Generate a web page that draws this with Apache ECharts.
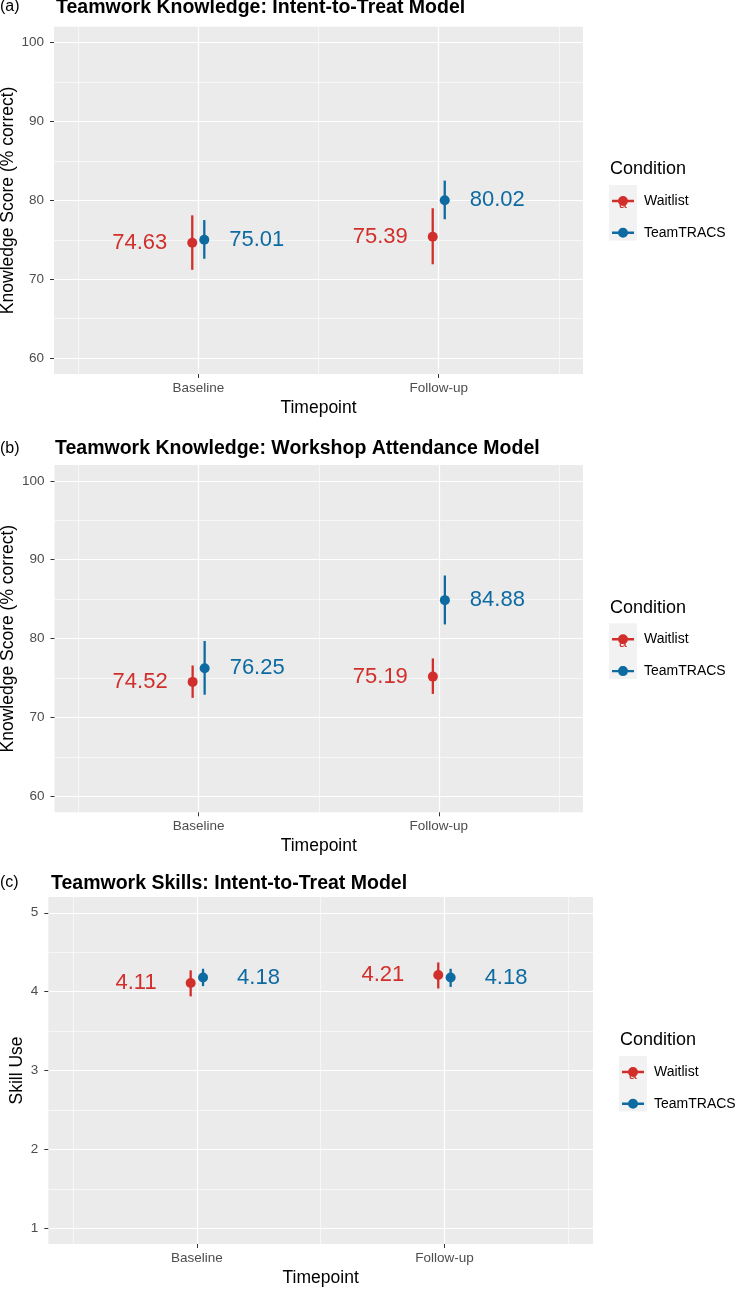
<!DOCTYPE html>
<html>
<head>
<meta charset="utf-8">
<script src="https://cdn.jsdelivr.net/npm/echarts@6/dist/echarts.min.js"></script>
<style>
html, body { margin: 0; padding: 0; background: #fff; }
#chart { width: 742px; height: 1289px; }
</style>
</head>
<body>
<div id="chart"></div>
<script>
// categories
const timepoints = ['Baseline', 'Follow-up'];
const groups = ['Waitlist', 'TeamTRACS'];

// (a) knowledge, intent-to-treat
const ittWaitMean = [74.63, 75.39];
const ittWaitLow = [71.2, 71.9];
const ittWaitHigh = [78.1, 79.0];
const ittTeamMean = [75.01, 80.02];
const ittTeamLow = [72.6, 77.6];
const ittTeamHigh = [77.5, 82.5];

// (b) knowledge, workshop attendance
const attWaitMean = [74.52, 75.19];
const attWaitLow = [72.5, 73.0];
const attWaitHigh = [76.6, 77.5];
const attTeamMean = [76.25, 84.88];
const attTeamLow = [72.9, 81.8];
const attTeamHigh = [79.7, 88.0];

// (c) skills, intent-to-treat
const skillWaitMean = [4.11, 4.21];
const skillWaitLow = [3.94, 4.04];
const skillWaitHigh = [4.27, 4.37];
const skillTeamMean = [4.18, 4.18];
const skillTeamLow = [4.07, 4.06];
const skillTeamHigh = [4.29, 4.29];

// tick labels
const knowledgeTicks = [60, 70, 80, 90, 100];
const knowledgeMinor = [65, 75, 85, 95];
const skillTicks = [1, 2, 3, 4, 5];
const skillMinor = [1.5, 2.5, 3.5, 4.5];
const xMinor = [0.5, 1.5, 2.5];

const colors = ['#D12F2B', '#0D6BA1'];
const FONT = '"Liberation Sans", Arial, sans-serif';
const dodge = 0.025;

const panels = [
    {
        tag: '(a)', title: 'Teamwork Knowledge: Intent-to-Treat Model', yName: 'Knowledge Score (% correct)',
        grid: { left: 54, top: 26.7, width: 529, height: 347.3 },
        yMin: 58, yMax: 102, ticks: knowledgeTicks, minor: knowledgeMinor, yGap: 37,
        titleY: 7, tagY: 7, tagX: 0, titleX: 56,
        legendX: 609, condY: 169.3, keyY: 199, labelGap: 25,
        groups: [[ittWaitMean, ittWaitLow, ittWaitHigh], [ittTeamMean, ittTeamLow, ittTeamHigh]]
    },
    {
        tag: '(b)', title: 'Teamwork Knowledge: Workshop Attendance Model', yName: 'Knowledge Score (% correct)',
        grid: { left: 54.5, top: 465, width: 528.5, height: 347.3 },
        yMin: 58, yMax: 102, ticks: knowledgeTicks, minor: knowledgeMinor, yGap: 37.5,
        titleY: 448, tagY: 449, tagX: 0, titleX: 55,
        legendX: 609, condY: 607.7, keyY: 637.3, labelGap: 25,
        groups: [[attWaitMean, attWaitLow, attWaitHigh], [attTeamMean, attTeamLow, attTeamHigh]]
    },
    {
        tag: '(c)', title: 'Teamwork Skills: Intent-to-Treat Model', yName: 'Skill Use',
        grid: { left: 48.3, top: 897, width: 544.7, height: 347 },
        yMin: 0.8, yMax: 5.2, ticks: skillTicks, minor: skillMinor, yGap: 22,
        titleY: 883, tagY: 882.7, tagX: 0, titleX: 51,
        legendX: 619, condY: 1040, keyY: 1070, labelGap: 34,
        groups: [[skillWaitMean, skillWaitLow, skillWaitHigh], [skillTeamMean, skillTeamLow, skillTeamHigh]]
    }
];

// legend key: horizontal bar with a dot on it (both drawn clockwise so they don't cut each other)
const keyIcon = 'path://M0 3.8H22V6.2H0Z M6 5A5 5 0 1 1 16 5A5 5 0 1 1 6 5Z';

function pointRange(color, side, gap) {
    return function (params, api) {
        const x = api.value(0);
        const m = api.value(1);
        const p = api.coord([x, m]);
        const lo = api.coord([x, api.value(2)]);
        const hi = api.coord([x, api.value(3)]);
        return {
            type: 'group',
            children: [
                { type: 'line', shape: { x1: lo[0], y1: lo[1], x2: hi[0], y2: hi[1] }, style: { stroke: color, lineWidth: 2.3 } },
                { type: 'circle', shape: { cx: p[0], cy: p[1], r: 5 }, style: { fill: color } },
                {
                    type: 'text', x: p[0] + side * gap, y: p[1],
                    style: {
                        text: m.toFixed(2), fill: color, font: '22px ' + FONT,
                        align: side < 0 ? 'right' : 'left', verticalAlign: 'middle'
                    }
                }
            ]
        };
    };
}

const grid = [], xAxis = [], yAxis = [], series = [], title = [], legend = [], graphic = [];

panels.forEach(function (pn, i) {
    grid.push(Object.assign({ show: true, backgroundColor: '#EBEBEB', borderWidth: 0, outerBoundsMode: 'none', containLabel: false }, pn.grid));

    // main x axis
    xAxis.push({
        type: 'value', gridIndex: i, min: 0.4, max: 2.6, position: 'bottom',
        axisLine: { show: false },
        axisTick: { show: true, length: 4, customValues: timepoints.map((t, k) => k + 1), lineStyle: { color: '#333', width: 1 } },
        axisLabel: {
            customValues: timepoints.map((t, k) => k + 1),
            formatter: v => timepoints[Math.round(v) - 1],
            color: '#4D4D4D', fontSize: 13.5, fontFamily: FONT, margin: 7
        },
        splitLine: { show: true, lineStyle: { color: '#fff', width: 1.2 } },
        name: 'Timepoint', nameLocation: 'middle', nameGap: 25, nameMoveOverlap: false,
        nameTextStyle: { color: '#000', fontSize: 17.5, fontFamily: FONT }
    });
    // minor x grid
    xAxis.push({
        type: 'value', gridIndex: i, min: 0.4, max: 2.6, position: 'top',
        axisLine: { show: false },
        axisTick: { show: false, customValues: xMinor },
        axisLabel: { show: false },
        splitLine: { show: true, lineStyle: { color: '#fff', width: 0.6 } }
    });

    yAxis.push({
        type: 'value', gridIndex: i, min: pn.yMin, max: pn.yMax, position: 'left',
        axisLine: { show: false },
        axisTick: { show: true, length: 4, customValues: pn.ticks, lineStyle: { color: '#333', width: 1 } },
        axisLabel: { customValues: pn.ticks, color: '#4D4D4D', fontSize: 13.5, fontFamily: FONT, margin: 10 },
        splitLine: { show: true, lineStyle: { color: '#fff', width: 1.2 } },
        name: pn.yName, nameLocation: 'middle', nameGap: pn.yGap, nameMoveOverlap: false,
        nameTextStyle: { color: '#000', fontSize: 17.5, fontFamily: FONT }
    });
    yAxis.push({
        type: 'value', gridIndex: i, min: pn.yMin, max: pn.yMax, position: 'right',
        axisLine: { show: false },
        axisTick: { show: false, customValues: pn.minor },
        axisLabel: { show: false },
        splitLine: { show: true, lineStyle: { color: '#fff', width: 0.6 } }
    });

    pn.groups.forEach(function (g, k) {
        const side = k === 0 ? -1 : 1;
        const rows = timepoints.map((t, j) => [j + 1 + side * dodge, g[0][j], g[1][j], g[2][j]]);
        series.push({
            type: 'custom', name: groups[k], xAxisIndex: 2 * i, yAxisIndex: 2 * i,
            itemStyle: { color: colors[k] },
            renderItem: pointRange(colors[k], side, pn.labelGap),
            encode: { x: 0, y: [1, 2, 3] },
            data: rows, animation: false, silent: true
        });
    });

    title.push({ text: pn.tag, left: pn.tagX, top: pn.tagY - 8, padding: 0,
        textStyle: { fontSize: 16, fontWeight: 'normal', color: '#000', fontFamily: FONT } });
    title.push({ text: pn.title, left: pn.titleX, top: pn.titleY - 9.75, padding: 0,
        textStyle: { fontSize: 19.5, fontWeight: 'bold', color: '#000', fontFamily: FONT } });
    title.push({ text: 'Condition', left: pn.legendX + 1, top: pn.condY - 9, padding: 0,
        textStyle: { fontSize: 18, fontWeight: 'normal', color: '#000', fontFamily: FONT } });

    legend.push({
        orient: 'vertical', left: pn.legendX + 3, top: pn.keyY - 5, padding: 0,
        itemWidth: 22, itemHeight: 10, itemGap: 17.8, selectedMode: false, z: 5,
        textStyle: { fontSize: 14, color: '#000', fontFamily: FONT, padding: [0, 0, 0, 5] },
        data: groups.map((name, k) => ({ name: name, icon: keyIcon, itemStyle: { color: colors[k], borderWidth: 0 } }))
    });

    graphic.push({ type: 'rect', left: pn.legendX, top: pn.keyY - 14, z: 0,
        shape: { width: 28, height: 55.6 }, style: { fill: '#F2F2F2' } });
    groups.forEach(function (name, k) {
        graphic.push({ type: 'text', x: pn.legendX + 14, y: pn.keyY + 5.5 + k * 27.8, z: 10,
            style: { text: 'a', fill: colors[k], font: '14px ' + FONT, align: 'center', verticalAlign: 'middle' } });
    });
});

const chart = echarts.init(document.getElementById('chart'), null, { renderer: 'canvas' });
chart.setOption({
    backgroundColor: '#fff',
    animation: false,
    title: title,
    legend: legend,
    grid: grid,
    xAxis: xAxis,
    yAxis: yAxis,
    graphic: graphic,
    series: series
});
</script>
</body>
</html>
